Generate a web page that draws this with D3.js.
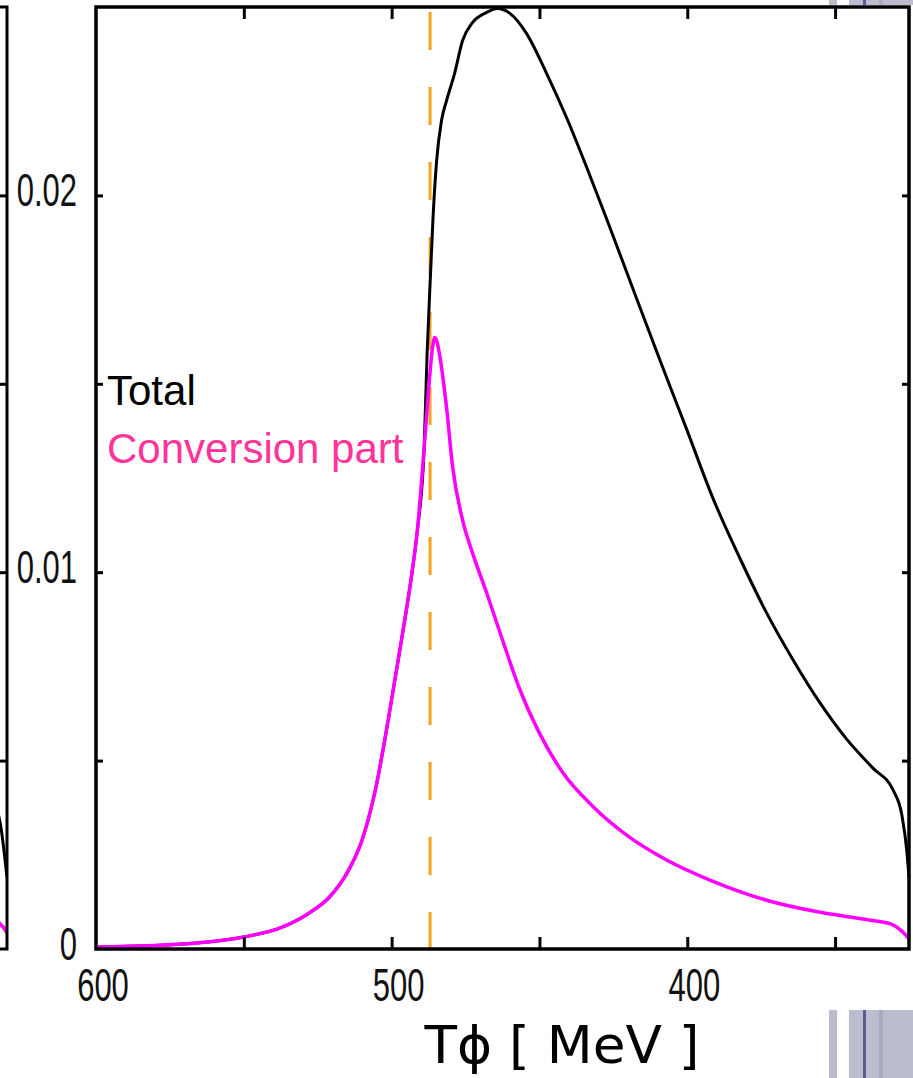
<!DOCTYPE html>
<html>
<head>
<meta charset="utf-8">
<script src="https://cdn.jsdelivr.net/npm/d3@7"></script>
<style>
  body { margin: 0; background: #fff; }
  svg { display: block; }
  .tickLabels { font-family: "Liberation Sans", Arial, sans-serif; font-size: 31px; fill: #111; }
  .legend { font-family: "Liberation Sans", Arial, sans-serif; font-size: 42px; }
</style>
</head>
<body>
<svg id="svg-chart" width="913" height="1078"></svg>
<script>
// values (T in MeV, spectrum in arbitrary units)
var convT   = [600, 566, 550, 537, 528, 521, 514.5, 510, 505.5, 501, 496.5, 493, 491.3, 489, 487.6, 486.1, 485.4, 484.6, 483.8, 481.4, 479.4, 476, 472.6, 467.8, 462.5, 456.8, 450, 442, 432, 420.5, 407, 391.5, 373.5, 355.5, 338.5, 331, 327.5, 325];
var convVal = [0.00005, 0.00016, 0.00032, 0.00058, 0.00095, 0.00138, 0.0021, 0.00289, 0.00422, 0.00615, 0.00828, 0.01005, 0.01111, 0.0133, 0.01475, 0.016, 0.01623, 0.0161, 0.01578, 0.01435, 0.01281, 0.01138, 0.0105, 0.00944, 0.0082, 0.00692, 0.00573, 0.00467, 0.00379, 0.00302, 0.00236, 0.0018, 0.0013, 0.00098, 0.00077, 0.00066, 0.00048, 0.00027];

var totalT   = [600, 566, 550, 537, 528, 521, 514.5, 510, 505.5, 501, 496.5, 493, 491.3, 489, 488, 486.8, 486, 484.8, 483.1, 481.4, 478.7, 476, 472.6, 468, 464.2, 460, 454.4, 447.6, 440.7, 433.9, 427.1, 418.7, 409.2, 400.1, 391.3, 382.2, 373.3, 364.2, 355.1, 346.1, 337.2, 330.4, 327.4, 325.7, 325];
var totalVal = [0.00005, 0.00016, 0.00032, 0.00058, 0.00095, 0.00138, 0.0021, 0.00289, 0.00422, 0.00615, 0.00828, 0.01005, 0.01111, 0.0133, 0.0158, 0.018, 0.0194, 0.0209, 0.022, 0.02252, 0.02324, 0.02411, 0.02459, 0.02485, 0.02496, 0.02483, 0.0243, 0.02324, 0.02204, 0.02072, 0.01934, 0.01759, 0.01562, 0.01377, 0.01196, 0.01037, 0.00894, 0.00767, 0.00653, 0.00557, 0.0048, 0.00422, 0.00355, 0.00257, 0.0019];

// tail of the neighbouring panel that is cut off on the left
var leftT        = [328, 327, 326, 325];
var leftTotalVal = [0.0036, 0.0032, 0.0026, 0.0019];
var leftConvVal  = [0.00072, 0.00064, 0.00055, 0.00042];

var markerT = [487]; // orange dashed line

var xTicks  = [550, 500, 450, 400, 350];
var xLabels = [600, 500, 400];
var yTicks  = [0.005, 0.01, 0.015, 0.02];
var yLabels = [0, 0.01, 0.02];

var svg = d3.select("#svg-chart");

// plot frame (note: "top" is reserved on window, so use plot* names)
var plotLeft = 96, plotRight = 909, plotTop = 7, plotBottom = 949;

var xScale = d3.scaleLinear().domain([600, 325]).range([plotLeft, plotRight]);
var yScale = d3.scaleLinear().domain([0, 0.025]).range([plotBottom, plotTop]);
// same scale for the cut-off panel on the left, whose right edge sits at x=7
var xLeft = d3.scaleLinear().domain([600, 325]).range([7 - (plotRight - plotLeft), 7]);

var zip = function(ts, vs) { return ts.map(function(t, i) { return { t: t, v: vs[i] }; }); };

// ---- left neighbour panel (only the edge is visible)
svg.append("clipPath").attr("id", "clipLeft")
   .append("rect").attr("x", 0).attr("y", 0).attr("width", 7).attr("height", plotBottom);

var lineLeft = d3.line()
  .x(function(d) { return xLeft(d.t); })
  .y(function(d) { return yScale(d.v); })
  .curve(d3.curveMonotoneX);

svg.append("path").datum(zip(leftT, leftTotalVal))
   .attr("d", lineLeft).attr("clip-path", "url(#clipLeft)")
   .attr("fill", "none").attr("stroke", "#000").attr("stroke-width", 3);
svg.append("path").datum(zip(leftT, leftConvVal))
   .attr("d", lineLeft).attr("clip-path", "url(#clipLeft)")
   .attr("fill", "none").attr("stroke", "#ff00ff").attr("stroke-width", 3.5);

svg.append("g")
   .attr("transform", "translate(7,0)")
   .call(d3.axisRight(yScale).tickValues(yTicks).tickSize(-7).tickFormat(""))
   .call(function(g) { g.select(".domain").remove(); g.selectAll("line").attr("stroke-width", 3); });

svg.append("path")
   .attr("d", "M0," + plotTop + "H7V" + plotBottom + "H0")
   .attr("fill", "none").attr("stroke", "#000").attr("stroke-width", 3);

// ---- main panel
svg.selectAll("markerLine")
   .data(markerT)
   .enter()
   .append("line")
   .attr("x1", function(d) { return xScale(d); })
   .attr("x2", function(d) { return xScale(d); })
   .attr("y1", plotTop + 5)
   .attr("y2", plotBottom)
   .attr("stroke", "#f7a21b")
   .attr("stroke-width", 3)
   .attr("stroke-dasharray", "38,37");

var line = d3.line()
  .x(function(d) { return xScale(d.t); })
  .y(function(d) { return yScale(d.v); })
  .curve(d3.curveMonotoneX);

svg.append("path").datum(zip(totalT, totalVal))
   .attr("d", line)
   .attr("fill", "none").attr("stroke", "#000").attr("stroke-width", 3);

svg.append("path").datum(zip(convT, convVal))
   .attr("d", line)
   .attr("fill", "none").attr("stroke", "#ff00ff").attr("stroke-width", 3.5);

// inward ticks on all four sides
var tickStyle = function(g) {
  g.select(".domain").remove();
  g.selectAll("line").attr("stroke", "#000").attr("stroke-width", 3);
};
svg.append("g").attr("transform", "translate(0," + plotBottom + ")")
   .call(d3.axisBottom(xScale).tickValues(xTicks).tickSize(-12).tickFormat("")).call(tickStyle);
svg.append("g").attr("transform", "translate(0," + plotTop + ")")
   .call(d3.axisTop(xScale).tickValues(xTicks).tickSize(-12).tickFormat("")).call(tickStyle);
svg.append("g").attr("transform", "translate(" + plotLeft + ",0)")
   .call(d3.axisLeft(yScale).tickValues(yTicks).tickSize(-7).tickFormat("")).call(tickStyle);
svg.append("g").attr("transform", "translate(" + plotRight + ",0)")
   .call(d3.axisRight(yScale).tickValues(yTicks).tickSize(-7).tickFormat("")).call(tickStyle);

svg.append("rect")
   .attr("x", plotLeft).attr("y", plotTop)
   .attr("width", plotRight - plotLeft).attr("height", plotBottom - plotTop)
   .attr("fill", "none").attr("stroke", "#000").attr("stroke-width", 3.5);

// tick labels (the scanned figure is stretched vertically)
svg.selectAll("xLabels")
   .data(xLabels)
   .enter()
   .append("text")
   .attr("class", "tickLabels")
   .attr("text-anchor", "middle")
   .attr("transform", function(d) { return "translate(" + (xScale(d) + 7) + "," + (plotBottom + 52) + ") scale(1,1.48)"; })
   .text(function(d) { return d; });

svg.selectAll("yLabels")
   .data(yLabels)
   .enter()
   .append("text")
   .attr("class", "tickLabels")
   .attr("text-anchor", "end")
   .attr("transform", function(d) { return "translate(77," + (yScale(d) + 11) + ") scale(1,1.48)"; })
   .text(function(d) { return d === 0 ? "0" : d3.format(".2f")(d); });

// axis title
svg.append("text")
   .attr("x", 562).attr("y", 1063)
   .attr("text-anchor", "middle")
   .attr("textLength", 275).attr("lengthAdjust", "spacingAndGlyphs")
   .style("font-family", "'DejaVu Sans', sans-serif")
   .style("font-size", "52px")
   .attr("fill", "#000")
   .text("T\u03d5 [ MeV ]");

// legend
svg.append("text").attr("class", "legend")
   .attr("x", 107).attr("y", 405).attr("fill", "#000").text("Total");
svg.append("text").attr("class", "legend")
   .attr("x", 107).attr("y", 463).attr("fill", "#ff3399").text("Conversion part");

// slide decoration bars at the right edge
var decoBars = [[829, 8, "#bcbccf"], [849, 14, "#bcbccf"], [863, 3, "#5b5b97"], [866, 13, "#bcbccf"], [879, 4, "#aaaac3"], [883, 30, "#bcbccf"]];
[[0, 5], [1010, 68]].forEach(function(band) {
  svg.selectAll(null)
     .data(decoBars)
     .enter()
     .append("rect")
     .attr("x", function(d) { return d[0]; })
     .attr("y", band[0])
     .attr("width", function(d) { return d[1]; })
     .attr("height", band[1])
     .attr("fill", function(d) { return d[2]; });
});
</script>
</body>
</html>
